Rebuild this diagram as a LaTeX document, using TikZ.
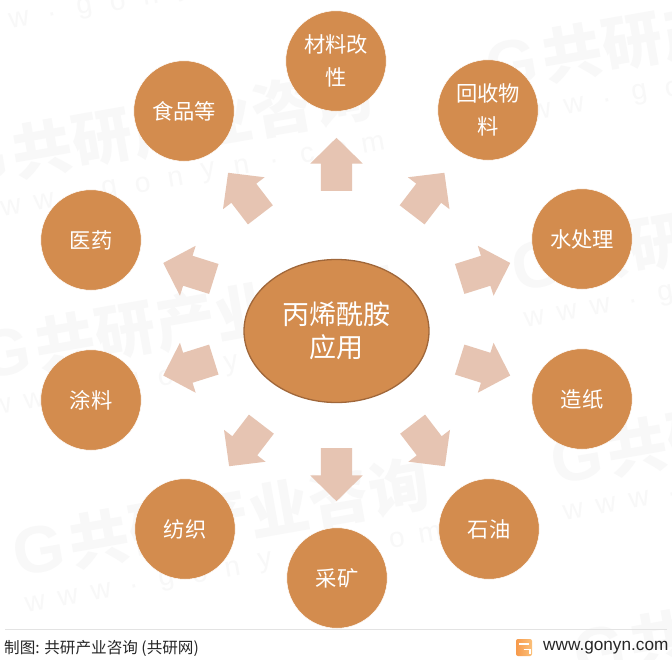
\documentclass[tikz,border=0pt]{standalone}
\usepackage{fontspec}
\setmainfont{Noto Sans CJK SC}
\newfontfamily\latinfont{Liberation Sans}
\usetikzlibrary{shapes.arrows,shapes.geometric}
\definecolor{hubfill}{HTML}{D38C4E}
\definecolor{hubline}{HTML}{A0673A}
\definecolor{arrowfill}{HTML}{E6C4B2}
\definecolor{markgray}{HTML}{F8F8F8}
\definecolor{footline}{HTML}{E3E3E3}
\definecolor{logoa}{HTML}{F79A4B}
\definecolor{logob}{HTML}{FBC07A}
\tikzset{
  x=1pt,y=-1pt,
  leaf/.style={circle,draw=white,line width=0.5pt,fill=hubfill,minimum size=100.5pt,inner sep=0pt,text=white,align=center,font=\fontsize{21.3}{33}\selectfont},
  hub/.style={ellipse,draw=hubline,line width=1.3pt,fill=hubfill,minimum width=185pt,minimum height=143pt,inner sep=0pt,text=white,align=center,font=\fontsize{27}{33}\selectfont},
  blockarrow/.style={single arrow,fill=arrowfill,draw=none,inner sep=0pt,minimum height=53pt,single arrow head extend=10.5pt,single arrow tip angle=91,anchor=tail},
  markchar/.style={text=markgray,font=\fontsize{60}{60}\selectfont\bfseries,inner sep=0pt},
  markweb/.style={text=markgray,font=\fontsize{28}{28}\selectfont\latinfont,inner sep=0pt},
  foot/.style={inner sep=0pt,text=black!85}
}
\newcommand{\arrowbody}{\rule{0pt}{31pt}}
\newcommand{\wmgroup}[2]{%
  \begin{scope}[shift={(#1,#2)},rotate=10,transform shape]
    \node[markchar,font=\fontsize{66}{66}\selectfont\bfseries\latinfont] at (0,0) {G};
    \foreach \c [count=\i] in {共,研,产,业,咨,询} {\node[markchar] at ({61*\i},0) {\c};}
    \foreach \c [count=\i from 0] in {w,w,w,.,g,o,n,y,n,.,c,o,m} {\node[markweb] at ({-13+33.4*\i},52) {\c};}
  \end{scope}}
\begin{document}
\begin{tikzpicture}
\useasboundingbox (0,0) rectangle (672,659);
\clip (0,0) rectangle (672,659);
\fill[white] (0,0) rectangle (672,659);
% watermarks
\wmgroup{-18}{160}
\wmgroup{512}{64}
\wmgroup{5}{353}
\wmgroup{538}{265}
\wmgroup{39}{550}
\wmgroup{577}{458}
\wmgroup{600}{651}
\wmgroup{-43}{-22}
% arrows
\node[blockarrow,rotate=90] (a1) at (336.5,191) {\arrowbody};
\node[blockarrow,rotate=52.5] (a2) at (412,215) {\arrowbody};
\node[blockarrow,rotate=17.5] (a3) at (459.5,279) {\arrowbody};
\node[blockarrow,rotate=-17.5] (a4) at (459.5,359.5) {\arrowbody};
\node[blockarrow,rotate=-52.5] (a5) at (412.5,424) {\arrowbody};
\node[blockarrow,rotate=-90] (a6) at (336.5,448) {\arrowbody};
\node[blockarrow,rotate=-127.5] (a7) at (261.5,424) {\arrowbody};
\node[blockarrow,rotate=197.5] (a8) at (214,359.5) {\arrowbody};
\node[blockarrow,rotate=162.5] (a9) at (214,279) {\arrowbody};
\node[blockarrow,rotate=127.5] (a10) at (260.5,215) {\arrowbody};
% hub
\node[hub] (hub) at (336.5,331) {丙烯酰胺\\应用};
% leaves
\node[leaf] (n1) at (336,61) {材料改\\性};
\node[leaf] (n2) at (488,110) {回收物\\料};
\node[leaf] (n3) at (582,239) {水处理};
\node[leaf] (n4) at (582,399) {造纸};
\node[leaf] (n5) at (489,529) {石油};
\node[leaf] (n6) at (337,578) {采矿};
\node[leaf] (n7) at (185,529) {纺织};
\node[leaf] (n8) at (91,400) {涂料};
\node[leaf] (n9) at (91,240) {医药};
\node[leaf] (n10) at (184,111) {食品等};
% footer
\coordinate (fl) at (5,629.5);
\coordinate (fr) at (667,629.5);
\draw[footline,line width=0.8pt] (fl) -- (fr);
\node[foot,anchor=west,font=\fontsize{15.6}{18}\selectfont] (src) at (4,648) {制图: 共研产业咨询 (共研网)};
\node[inner sep=0pt,minimum width=16pt,minimum height=17pt,rounded corners=2pt,left color=logoa,right color=logob] (logo) at (524,647.5) {};
\draw[white,line width=1.6pt] (519,644) -- (529,644);
\draw[white,line width=1.6pt] (523.5,649.5) -- (530,649.5) -- (530,654);
\node[foot,anchor=west,font=\fontsize{17.2}{18}\selectfont\latinfont] (web) at (543,648) {www.gonyn.com};
\end{tikzpicture}
\end{document}
